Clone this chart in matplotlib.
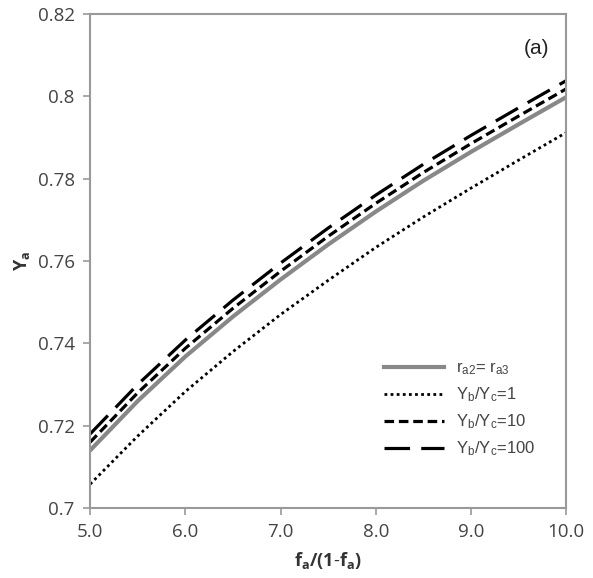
import numpy as np
import matplotlib.pyplot as plt

plt.rcParams['font.family'] = ['Open Sans', 'DejaVu Sans']
plt.rcParams['mathtext.fontset'] = 'custom'
plt.rcParams['mathtext.rm'] = 'Liberation Sans'
plt.rcParams['mathtext.it'] = 'Liberation Sans'
plt.rcParams['mathtext.bf'] = 'Open Sans:bold'

# --- data ---
x = [5.0, 5.5, 6.0, 6.5, 7.0, 7.5, 8.0, 8.5, 9.0, 9.5, 10.0]
y_equal = [0.7140, 0.7260, 0.7368, 0.7465, 0.7555, 0.7640, 0.7720, 0.7795, 0.7865, 0.7932, 0.7998]
y_ratio1 = [0.7058, 0.7175, 0.7283, 0.7380, 0.7470, 0.7553, 0.7633, 0.7707, 0.7777, 0.7845, 0.7912]
y_ratio10 = [0.7160, 0.7280, 0.7388, 0.7485, 0.7575, 0.7660, 0.7740, 0.7815, 0.7885, 0.7952, 0.8018]
y_ratio100 = [0.7180, 0.7300, 0.7408, 0.7505, 0.7595, 0.7680, 0.7760, 0.7835, 0.7905, 0.7972, 0.8038]

x_ticks = [5.0, 6.0, 7.0, 8.0, 9.0, 10.0]
y_ticks = [0.70, 0.72, 0.74, 0.76, 0.78, 0.80, 0.82]
y_ticklabels = ['0.7', '0.72', '0.74', '0.76', '0.78', '0.8', '0.82']

fig = plt.figure(figsize=(5.93, 5.78), dpi=100)
ax = fig.add_axes([0.152, 0.121, 0.803, 0.855])

ax.plot(x, y_equal, color='#888888', lw=3, label=r'r$_{\rm a2}$= r$_{\rm a3}$')
ax.plot(x, y_ratio1, color='black', lw=2, linestyle=(0, (1, 1.2)), label=r'Y$_{\rm b}$/Y$_{\rm c}$=1')
ax.plot(x, y_ratio10, color='black', lw=2.3, linestyle=(0, (3, 1.5)), label=r'Y$_{\rm b}$/Y$_{\rm c}$=10')
ax.plot(x, y_ratio100, color='black', lw=2.3, linestyle=(0, (8, 3.5)), label=r'Y$_{\rm b}$/Y$_{\rm c}$=100')

ax.set_xlim(5, 10)
ax.set_ylim(0.7, 0.82)
ax.set_xticks(x_ticks)
ax.set_xticklabels([f'{t:.1f}' for t in x_ticks])
ax.set_yticks(y_ticks)
ax.set_yticklabels(y_ticklabels)

for s in ax.spines.values():
    s.set_color('#999999')
    s.set_linewidth(1.5)
ax.tick_params(direction='out', length=5, width=1.2, color='#999999',
               labelsize=13.5, labelcolor='#444444', pad=6)

ax.set_xlabel(r'$\mathbf{f_a/(1\text{-}f_a)}$', fontsize=13, color='#333333', labelpad=6)
ax.set_ylabel(r'$\mathbf{Y_a}$', fontsize=13, color='#333333', labelpad=4)

ax.text(0.965, 0.93, '(a)', transform=ax.transAxes, ha='right', va='center',
        fontsize=15, family='Liberation Sans', color='#222222')

leg = ax.legend(loc='lower right', bbox_to_anchor=(0.965, 0.07), frameon=False,
                handlelength=3.6, handletextpad=0.7, labelspacing=0.5,
                prop={'family': 'Liberation Sans', 'size': 12})
for t in leg.get_texts():
    t.set_color('#444444')

fig.savefig('out.png', dpi=100)
